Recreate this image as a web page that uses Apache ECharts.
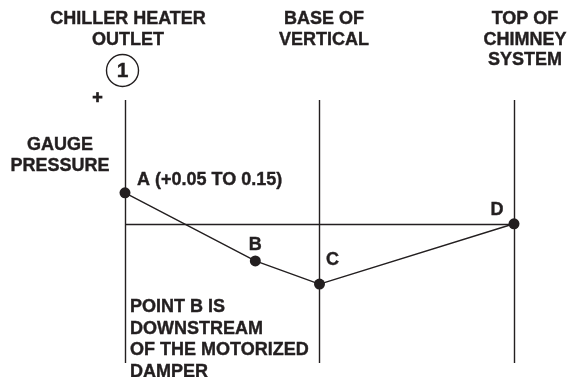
<!DOCTYPE html>
<html>
<head>
<meta charset="utf-8">
<style>
  html, body { margin: 0; padding: 0; background: #fff; }
  #main { width: 568px; height: 377px; }
</style>
<script src="https://cdn.jsdelivr.net/npm/echarts@6/dist/echarts.min.js"></script>
</head>
<body>
<div id="main"></div>
<script>
  // stations (vertical reference lines)
  const stationNames = ['CHILLER HEATER\nOUTLET', 'BASE OF\nVERTICAL', 'TOP OF\nCHIMNEY\nSYSTEM'];
  const stationX = [0, 1, 2];
  // pressure profile points
  const pointNames = ['A (+0.05 TO 0.15)', 'B', 'C', 'D'];
  const pointX = [0, 0.67, 1, 2];
  const pointY = [0.1, -0.12, -0.195, 0];
  const yLabel = 'GAUGE\nPRESSURE';
  const note = 'POINT B IS\nDOWNSTREAM\nOF THE MOTORIZED\nDAMPER';

  const ink = '#231f20';
  const font = 'Arial';
  const f18 = 'bold 18px Arial';

  // label offsets (from centre of dot)
  const labelOffsets = [[12, -13], [0, -15.5], [13, -24.5], [-17, -14]];

  const myChart = echarts.init(document.getElementById('main'));

  const headerX = [128, 324, 525];
  const headers = stationNames.map((t, i) => ({
    type: 'text',
    x: headerX[i],
    y: 8.5,
    style: {
      text: t, align: 'center', verticalAlign: 'top',
      font: f18, lineHeight: 20.7, fill: ink, stroke: ink, lineWidth: 0.4
    }
  }));

  myChart.setOption({
    animation: false,
    grid: { left: 125, right: 54, top: 100, bottom: 14 },
    xAxis: { type: 'value', min: 0, max: 2, show: false },
    yAxis: { type: 'value', min: -0.45, max: 0.4, show: false },
    graphic: headers.concat([
      {
        type: 'circle',
        shape: { cx: 122.5, cy: 70.5, r: 16 },
        style: { fill: 'none', stroke: ink, lineWidth: 1.4 }
      },
      {
        type: 'text', x: 122.5, y: 71,
        style: { text: '1', align: 'center', verticalAlign: 'middle', font: 'bold 21px Arial', fill: ink, stroke: ink, lineWidth: 0.4 }
      },
      {
        type: 'text', x: 97.5, y: 98,
        style: { text: '+', align: 'center', verticalAlign: 'middle', font: 'bold 18px Arial', fill: ink, stroke: ink, lineWidth: 0.7 }
      },
      {
        type: 'text', x: 60, y: 134.5,
        style: { text: yLabel, align: 'center', verticalAlign: 'top', font: f18, lineHeight: 21, fill: ink, stroke: ink, lineWidth: 0.4 }
      },
      {
        type: 'text', x: 130, y: 296, z: 100,
        style: { text: note, align: 'left', verticalAlign: 'top', font: f18, lineHeight: 21.7, fill: ink, stroke: ink, lineWidth: 0.4 }
      }
    ]),
    series: [
      {
        type: 'line',
        data: pointX.map((x, i) => ({
          value: [x, pointY[i]],
          label: {
            show: true,
            formatter: pointNames[i],
            position: 'inside',
            align: i === 0 ? 'left' : 'center',
            offset: labelOffsets[i]
          }
        })),
        symbol: 'circle',
        symbolSize: 11,
        itemStyle: { color: ink },
        lineStyle: { color: ink, width: 1.4 },
        label: {
          color: ink, fontFamily: font, fontWeight: 'bold', fontSize: 18,
          textBorderColor: ink, textBorderWidth: 0.4
        },
        markLine: {
          silent: true,
          symbol: 'none',
          label: { show: false },
          lineStyle: { color: ink, width: 1.4, type: 'solid' },
          data: stationX.map(x => ({ xAxis: x })).concat([{ yAxis: 0 }])
        },
        z: 3
      }
    ]
  });
</script>
</body>
</html>
